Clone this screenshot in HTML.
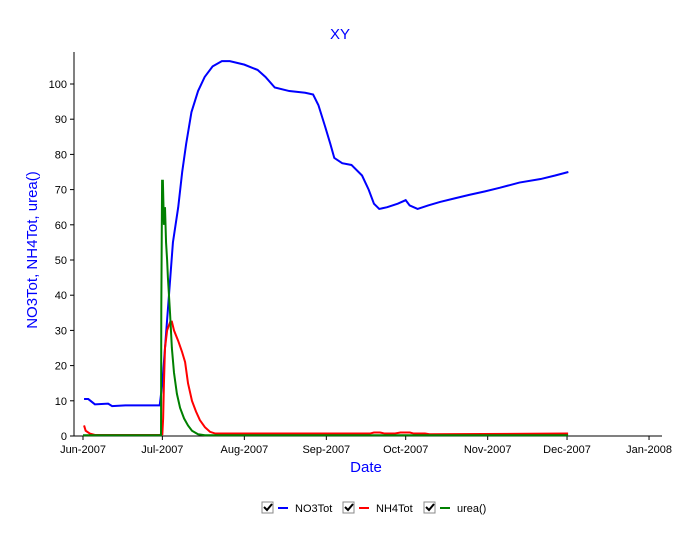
<!DOCTYPE html>
<html><head><meta charset="utf-8"><style>
body{margin:0;background:#fff;font-family:"Liberation Sans",sans-serif}
</style></head><body>
<svg id="c" width="682" height="544" xmlns="http://www.w3.org/2000/svg">
<text x="340" y="39" font-size="15" fill="#0000ff" text-anchor="middle">XY</text>
<text x="0" y="0" transform="translate(37,250) rotate(-90)" font-size="15" fill="#0000ff" text-anchor="middle">NO3Tot, NH4Tot, urea()</text>
<text x="366" y="472" font-size="15" fill="#0000ff" text-anchor="middle">Date</text>
<g id="axes"></g><g id="series"></g>
<g id="legend" font-size="11"></g>
</svg>
<script>
const NS="http://www.w3.org/2000/svg";
const xTickLabels=["Jun-2007","Jul-2007","Aug-2007","Sep-2007","Oct-2007","Nov-2007","Dec-2007","Jan-2008"];
const xTickDays=[0,30,61,92,122,153,183,214];
const yTicks=[0,10,20,30,40,50,60,70,80,90,100];
const seriesNames=["NO3Tot","NH4Tot","urea()"];
const seriesColors=["#0000ff","#ff0000","#008000"];
const no3Days=[0.4,2,4.5,9.5,11,16,29,30,31,32,33,34,36,37.5,39,41,43.5,46,49,52.5,55.5,61,66,69,72.5,78,84,87,89,91.5,93.5,95,98,101.5,105.5,108,110,112,115,119,122,123.5,126.5,130.5,135,140.5,146,152,157.5,165,173,178.5,183.5];
const no3Vals=[10.5,10.5,9,9.2,8.5,8.7,8.7,15,25,35,45,55,65,75,83,92,98,102,105,106.5,106.5,105.5,104,102,99,98,97.5,97,94,88,83,79,77.5,77,74,70,66,64.5,65,66,67,65.5,64.5,65.5,66.5,67.5,68.5,69.5,70.5,72,73,74,75];
const nh4Days=[0.4,1,2.6,4.5,29,30,30.3,30.6,31,31.8,33,33.6,34.4,36,37.4,38.6,39.7,41.2,42.7,44.2,46.1,48,50,51.8,108.5,110,112.3,114,118,120,123.6,125,129.3,131,183.4];
const nh4Vals=[3,1.5,0.7,0.3,0.3,0.5,5,15,25,30,32.5,32.5,30,27,24,21,15,10,7,4.5,2.5,1.2,0.7,0.7,0.7,1,1,0.7,0.7,1,1,0.7,0.7,0.5,0.7];
const ureaDays=[0,29.5,29.6,29.9,30.2,30.6,31,31.4,31.8,32.1,32.9,33.6,34.4,35.5,36.7,38.2,39.7,41.2,43.5,46.1,183.4];
const ureaVals=[0.2,0.2,36,72.5,72.5,60,65,55,50,45,35,25,18,12,8,5,3,1.5,0.5,0.2,0.2];
const X0=74,X1=662,Y0=436,YT=52;
const xs=d=>83+d*2.645, ys=v=>Y0-v*3.52;
function mk(t,a,p){const e=document.createElementNS(NS,t);for(const k in a)e.setAttribute(k,a[k]);p.appendChild(e);return e;}
const ax=document.getElementById('axes');
let e=mk('line',{x1:X0,y1:YT,x2:X0,y2:Y0,stroke:'#000'},ax);


e=mk('line',{x1:X0,y1:Y0,x2:X1,y2:Y0,stroke:'#000'},ax);


yTicks.forEach(v=>{const y=ys(v);mk('line',{x1:X0-4,y1:y,x2:X0,y2:y,stroke:'#000'},ax);
const t=mk('text',{x:X0-7,y:y+4,'font-size':11,'text-anchor':'end'},ax);t.textContent=v;

});
xTickDays.forEach((d,i)=>{const x=xs(d);mk('line',{x1:x,y1:Y0,x2:x,y2:Y0+4,stroke:'#000'},ax);
const t=mk('text',{x:x,y:Y0+17,'font-size':11,'text-anchor':'middle'},ax);t.textContent=xTickLabels[i];

});
const sg=document.getElementById('series');
[[no3Days,no3Vals],[nh4Days,nh4Vals],[ureaDays,ureaVals]].forEach((s,i)=>{
const p=mk('polyline',{points:s[0].map((d,j)=>xs(d)+','+ys(s[1][j])).join(' '),fill:'none',stroke:seriesColors[i],'stroke-width':2},sg);

});
const lg=document.getElementById('legend');
const lx=[262,343,424];
seriesNames.forEach((n,i)=>{const x=lx[i];
const b=mk('rect',{x:x,y:502,width:11,height:11,fill:'#fff',stroke:'#888'},lg);


mk('path',{d:`M${x+2} ${507}l3 3l5 -6`,fill:'none',stroke:'#000','stroke-width':2},lg);
mk('line',{x1:x+16,y1:508,x2:x+26,y2:508,stroke:seriesColors[i],'stroke-width':2},lg);
const t=mk('text',{x:x+33,y:512},lg);t.textContent=n;

});
</script>
</body></html>
